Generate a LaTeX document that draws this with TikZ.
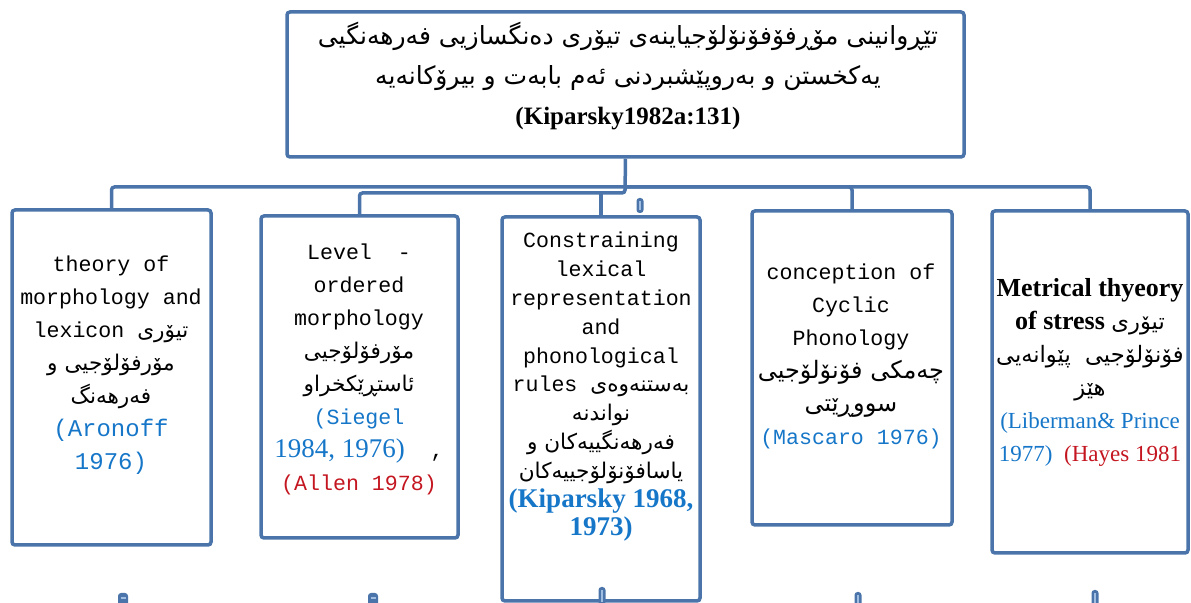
\documentclass[tikz,border=0pt]{standalone}
\usepackage{fontspec}
\setmainfont{Liberation Serif}
\newfontfamily\kufont[Script=Arabic]{DejaVu Sans}
\newfontfamily\boxmono{Liberation Mono}
\TeXXeTstate=1
\usetikzlibrary{fit}
\definecolor{linkblue}{RGB}{74,116,170}
\definecolor{gripblue}{RGB}{160,190,225}
\definecolor{refblue}{RGB}{22,118,200}
\definecolor{refred}{RGB}{196,22,32}
\newcommand{\kutext}[1]{{\kufont\beginR #1\endR}}
\begin{document}
\begin{tikzpicture}[x=0.5pt,y=-0.5pt,
    bbox/.style={draw=linkblue,line width=1.75pt,rounded corners=1.5pt,inner sep=0pt},
    link/.style={draw=linkblue,line width=1.75pt,rounded corners=1.5pt},
    txt/.style={align=center,inner sep=0pt,font=\boxmono\fontsize{10.8}{16.5}\selectfont}]
\useasboundingbox (0,0) rectangle (1191,603);

\node[bbox,fit={(287,12) (964,157)}] (top) {};
\node[bbox,fit={(12,210) (211,545)}] (b1) {};
\node[bbox,fit={(261,216) (458,538)}] (b2) {};
\node[bbox,fit={(502,217) (700,601)}] (b3) {};
\node[bbox,fit={(752,211) (952,525)}] (b4) {};
\node[bbox,fit={(992,211) (1188,553)}] (b5) {};

\coordinate (j1) at (625,187);
\coordinate (j2) at (625,193);
\draw[link] (top.south) -- (j2) -| (b2.north);
\draw[link] (j1) -| (b1.north);
\draw[link] (j1) -| (b4.north);
\draw[link] (j1) -| (b5.north);
\draw[link] (b3.north) -- (b3.north |- j2);

\foreach \x/\y/\h in {640/198/15, 602/587/18, 858/592/16, 1095/590/16} {
    \fill[linkblue,rounded corners=1.5pt] (\x-3.5,\y) rectangle (\x+3.5,\y+\h);
    \draw[gripblue,line width=0.8pt] (\x,\y+3) -- (\x,\y+\h-3);
}
\foreach \x in {123, 373} {
    \fill[linkblue,rounded corners=1.5pt] (\x-5,593) rectangle (\x+5,608);
    \draw[gripblue,line width=0.8pt] (\x-2.5,598) -- (\x+2.5,598);
}

\node[txt,font=\fontsize{12.5}{20}\selectfont] (t0) at (628,76)
    {\kutext{تێڕوانینی مۆڕفۆفۆنۆلۆجیاینەی تیۆری دەنگسازیی فەرهەنگیی}\\
     \kutext{یەکخستن و بەروپێشبردنی ئەم بابەت و بیرۆکانەیە}\\
     \textbf{(Kiparsky1982a:131)}};

\node[txt] (t1) at (111,365)
    {theory of\\morphology and\\lexicon \kutext{تیۆری}\\
     \kutext{مۆرفۆلۆجیی و}\\\kutext{فەرهەنگ}\\
     {\color{refblue}\fontsize{12}{20}\selectfont(Aronoff}\\
     {\color{refblue}\fontsize{12}{20}\selectfont1976)}};

\node[txt] (t2) at (359,369)
    {Level~~-\\ordered\\morphology\\
     \kutext{مۆرفۆلۆجیی}\\\kutext{ئاستڕێکخراو}\\
     {\color{refblue}(Siegel}\\
     {\color{refblue}\rmfamily\fontsize{13.5}{19}\selectfont1984, 1976)}~~,\\
     {\color{refred}(Allen 1978)}};

\node[txt,font=\boxmono\fontsize{10.8}{14.4}\selectfont] (t3) at (601,387)
    {Constraining\\lexical\\representation\\and\\phonological\\
     rules \kutext{بەستنەوەی}\\\kutext{نواندنە}\\
     \kutext{فەرهەنگییەکان و}\\\kutext{یاسافۆنۆلۆجییەکان}\\
     {\color{refblue}\rmfamily\bfseries\fontsize{13.5}{16}\selectfont(Kiparsky 1968,}\\
     {\color{refblue}\rmfamily\bfseries\fontsize{13.5}{16}\selectfont1973)}};

\node[txt] (t4) at (851,356)
    {conception of\\Cyclic\\Phonology\\
     \kutext{\fontsize{12}{16.5}\selectfont چەمکی فۆنۆلۆجیی}\\
     \kutext{\fontsize{12}{16.5}\selectfont سووڕێتی}\\
     {\color{refblue}(Mascaro 1976)}};

\node[txt,font=\fontsize{13}{16.5}\selectfont] (t5) at (1090,372)
    {\textbf{Metrical thyeory}\\\textbf{of stress} \kutext{\fontsize{11.3}{16.5}\selectfont تیۆری}\\
     \kutext{\fontsize{11.3}{16.5}\selectfont فۆنۆلۆجیی~~پێوانەیی}\\
     \kutext{\fontsize{11.3}{16.5}\selectfont هێز}\\
     {\color{refblue}\fontsize{11.5}{16.5}\selectfont(Liberman\& Prince}\\
     {\fontsize{11.5}{16.5}\selectfont\color{refblue}1977)~~\color{refred}(Hayes 1981}};
\end{tikzpicture}
\end{document}
